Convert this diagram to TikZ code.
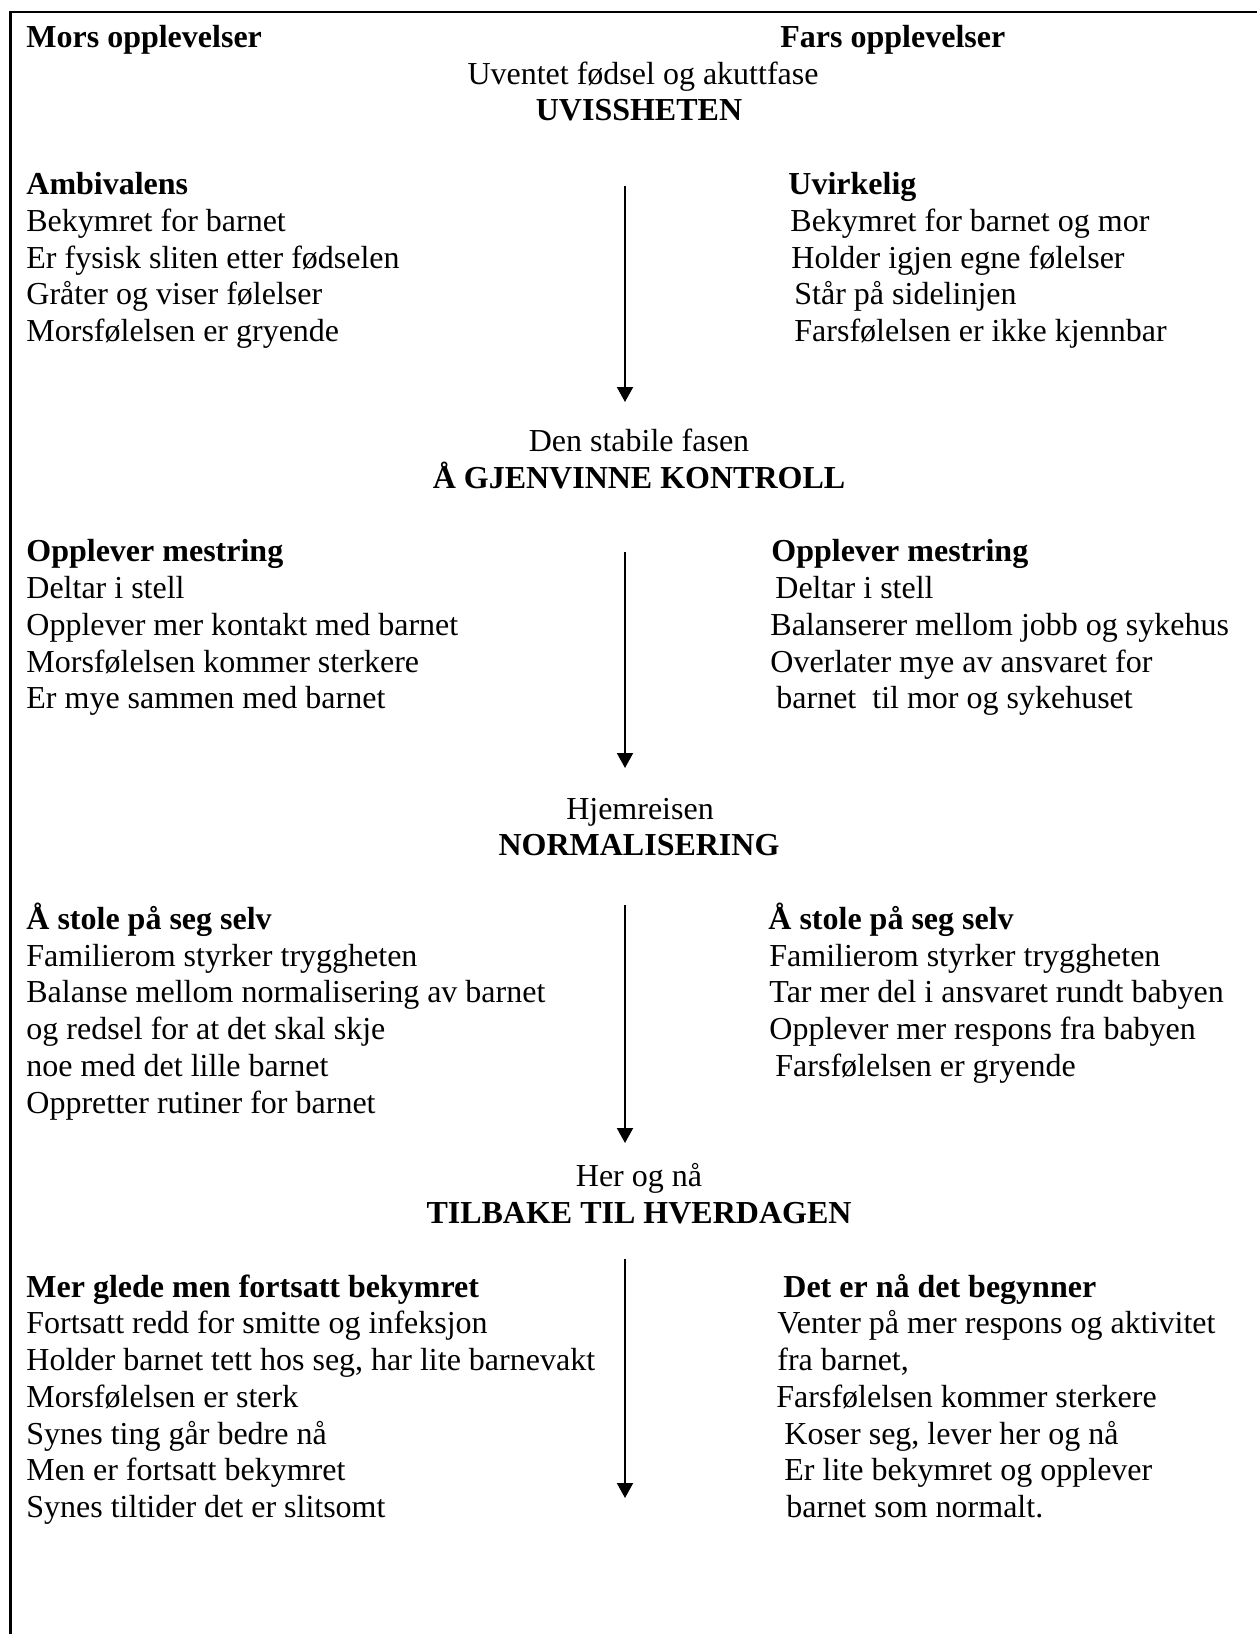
\documentclass[tikz,border=0pt]{standalone}
\usepackage{fontspec}
\setmainfont{Liberation Serif}
\usepackage{tikz}
\usetikzlibrary{arrows.meta}

\begin{document}
\begin{tikzpicture}[x=0.5pt,y=-0.5pt,font=\fontsize{16}{18}\selectfont,
  txt/.style={anchor=base west,inner sep=0pt},
  head/.style={anchor=base,inner sep=0pt},
  flow/.style={-{Triangle[length=7.5pt,width=8pt]},line width=1pt}]
\useasboundingbox (0,0) rectangle (1257,1634);
\draw[line width=1.3pt] (10.5,1640) -- (10.5,12) -- (1262,12);
% overskrifter
\node[txt] (mor) at (26,47) {\textbf{Mors opplevelser}};
\node[txt] (far) at (780,47) {\textbf{Fars opplevelser}};
\node[head] (f1) at (643,84) {Uventet fødsel og akuttfase};
\node[head] (F1) at (639,120) {\textbf{UVISSHETEN}};
% fase 1
\node[txt] (m1) at (26,194) {\textbf{Ambivalens}};
\node[txt] (m1a) at (26,231) {Bekymret for barnet};
\node[txt] (m1b) at (26,268) {Er fysisk sliten etter fødselen};
\node[txt] (m1c) at (26,304) {Gråter og viser følelser};
\node[txt] (m1d) at (26,341) {Morsfølelsen er gryende};
\node[txt] (p1) at (788,194) {\textbf{Uvirkelig}};
\node[txt] (p1a) at (790,231) {Bekymret for barnet og mor};
\node[txt] (p1b) at (791,268) {Holder igjen egne følelser};
\node[txt] (p1c) at (794,304) {Står på sidelinjen};
\node[txt] (p1d) at (794,341) {Farsfølelsen er ikke kjennbar};
\node[head] (f2) at (639,451) {Den stabile fasen};
\node[head] (F2) at (639,488) {\textbf{Å GJENVINNE KONTROLL}};
% fase 2
\node[txt] (m2) at (26,561) {\textbf{Opplever mestring}};
\node[txt] (m2a) at (26,598) {Deltar i stell};
\node[txt] (m2b) at (26,635) {Opplever mer kontakt med barnet};
\node[txt] (m2c) at (26,672) {Morsfølelsen kommer sterkere};
\node[txt] (m2d) at (26,708) {Er mye sammen med barnet};
\node[txt] (p2) at (771,561) {\textbf{Opplever mestring}};
\node[txt] (p2a) at (775,598) {Deltar i stell};
\node[txt] (p2b) at (770,635) {Balanserer mellom jobb og sykehus};
\node[txt] (p2c) at (770,672) {Overlater mye av ansvaret for};
\node[txt] (p2d) at (776,708) {barnet~ til mor og sykehuset};
\node[head] (f3) at (640,819) {Hjemreisen};
\node[head] (F3) at (639,855) {\textbf{NORMALISERING}};
% fase 3
\node[txt] (m3) at (26,929) {\textbf{Å stole på seg selv}};
\node[txt] (m3a) at (26,966) {Familierom styrker tryggheten};
\node[txt] (m3b) at (26,1002) {Balanse mellom normalisering av barnet};
\node[txt] (m3c) at (26,1039) {og redsel for at det skal skje};
\node[txt] (m3d) at (26,1076) {noe med det lille barnet};
\node[txt] (m3e) at (26,1113) {Oppretter rutiner for barnet};
\node[txt] (p3) at (768,929) {\textbf{Å stole på seg selv}};
\node[txt] (p3a) at (769,966) {Familierom styrker tryggheten};
\node[txt] (p3b) at (769,1002) {Tar mer del i ansvaret rundt babyen};
\node[txt] (p3c) at (769,1039) {Opplever mer respons fra babyen};
\node[txt] (p3d) at (775,1076) {Farsfølelsen er gryende};
\node[head] (f4) at (639,1186) {Her og nå};
\node[head] (F4) at (639,1223) {\textbf{TILBAKE TIL HVERDAGEN}};
% fase 4
\node[txt] (m4) at (26,1297) {\textbf{Mer glede men fortsatt bekymret}};
\node[txt] (m4a) at (26,1333) {Fortsatt redd for smitte og infeksjon};
\node[txt] (m4b) at (26,1370) {Holder barnet tett hos seg, har lite barnevakt};
\node[txt] (m4c) at (26,1407) {Morsfølelsen er sterk};
\node[txt] (m4d) at (26,1444) {Synes ting går bedre nå};
\node[txt] (m4e) at (26,1480) {Men er fortsatt bekymret};
\node[txt] (m4f) at (26,1517) {Synes tiltider det er slitsomt};
\node[txt] (p4) at (783,1297) {\textbf{Det er nå det begynner}};
\node[txt] (p4a) at (777,1333) {Venter på mer respons og aktivitet};
\node[txt] (p4b) at (777,1370) {fra barnet,};
\node[txt] (p4c) at (776,1407) {Farsfølelsen kommer sterkere};
\node[txt] (p4d) at (784,1444) {Koser seg, lever her og nå};
\node[txt] (p4e) at (784,1480) {Er lite bekymret og opplever};
\node[txt] (p4f) at (786,1517) {barnet som normalt.};
% piler
\coordinate (a1) at (625,186);  \coordinate (b1) at (625,402);
\coordinate (a2) at (625,552);  \coordinate (b2) at (625,768);
\coordinate (a3) at (625,905);  \coordinate (b3) at (625,1143);
\coordinate (a4) at (625,1259); \coordinate (b4) at (625,1498);
\draw[flow] (a1) -- (b1);
\draw[flow] (a2) -- (b2);
\draw[flow] (a3) -- (b3);
\draw[flow] (a4) -- (b4);
\end{tikzpicture}
\end{document}
